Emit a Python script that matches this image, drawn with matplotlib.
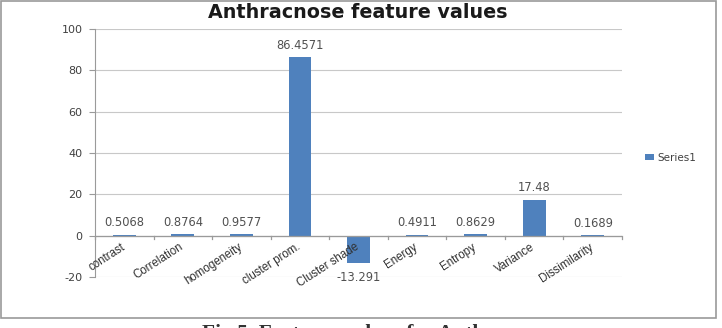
import matplotlib.pyplot as plt
from matplotlib.patches import Rectangle

features = ['contrast', 'Correlation', 'homogeneity', 'cluster prom.', 'Cluster shade',
            'Energy', 'Entropy', 'Variance', 'Dissimilarity']
values = [0.5068, 0.8764, 0.9577, 86.4571, -13.291, 0.4911, 0.8629, 17.48, 0.1689]
value_labels = ['0.5068', '0.8764', '0.9577', '86.4571', '-13.291',
                '0.4911', '0.8629', '17.48', '0.1689']
yticks = [-20, 0, 20, 40, 60, 80, 100]

W, H = 722, 328
fig = plt.figure(figsize=(W / 100, H / 100), dpi=100)
plt.rcParams['font.family'] = ['DejaVu Sans']

# outer chart frame
fig.patches.append(Rectangle((1 / W, 1 - 318 / H), 715 / W, 317 / H, transform=fig.transFigure,
                             fill=False, edgecolor='#9a9a9a', linewidth=1.2))

ax = fig.add_axes([95 / W, 1 - 277 / H, (622 - 95) / W, (277 - 29) / H])
x = list(range(len(features)))
ax.bar(x, values, width=0.39, color='#4f81bd', label='Series1', zorder=3)
ax.set_xlim(-0.5, len(features) - 0.5)
ax.set_ylim(-20, 100)
ax.set_yticks(yticks)
ax.set_yticklabels([str(t) for t in yticks], fontsize=8, color='#404040')
ax.tick_params(axis='y', length=4, color='#9a9a9a', pad=5)
ax.grid(axis='y', color='#c8c8c8', linewidth=0.8, zorder=0)
for s in ['top', 'right', 'bottom']:
    ax.spines[s].set_visible(False)
ax.spines['left'].set_color('#9a9a9a')
ax.axhline(0, color='#9a9a9a', linewidth=0.9, zorder=4)
ax.set_xticks([])

# category tick marks on zero line
for i in range(len(features) + 1):
    ax.plot([i - 0.5, i - 0.5], [0, -1.6], color='#9a9a9a', linewidth=0.9, zorder=4, clip_on=False)

for i, (v, lab) in enumerate(zip(values, value_labels)):
    yy = v + 2.5 if v >= 0 else v - 4.0
    ax.text(i, yy, lab, ha='center', va='bottom' if v >= 0 else 'top', fontsize=8.3,
            color='#505050', zorder=5)
    ax.text(i - 0.06, -2.6, features[i], rotation=33, ha='right', va='top', fontsize=8.3,
            color='#303030', rotation_mode='anchor', zorder=5, family='Liberation Sans')

fig.text(358 / W, 1 - 13 / H, 'Anthracnose feature values', ha='center', va='center',
         fontsize=13.8, fontweight='bold', color='#1a1a1a')

leg = fig.legend(loc='center left', bbox_to_anchor=(636 / W, 1 - 158 / H), frameon=False,
                 fontsize=7.5, handlelength=0.8, handleheight=0.5, handletextpad=0.4)
for t in leg.get_texts():
    t.set_color('#404040')

# figure caption, cut off at the bottom edge as in the source image
fig.text(202 / W, 1 - 324.5 / H, 'Fig 5. Features values for Anthracnose', ha='left', va='top',
         fontsize=15.5, fontweight='bold', color='#333333', family='Liberation Serif')

fig.savefig('out.png', dpi=100)
